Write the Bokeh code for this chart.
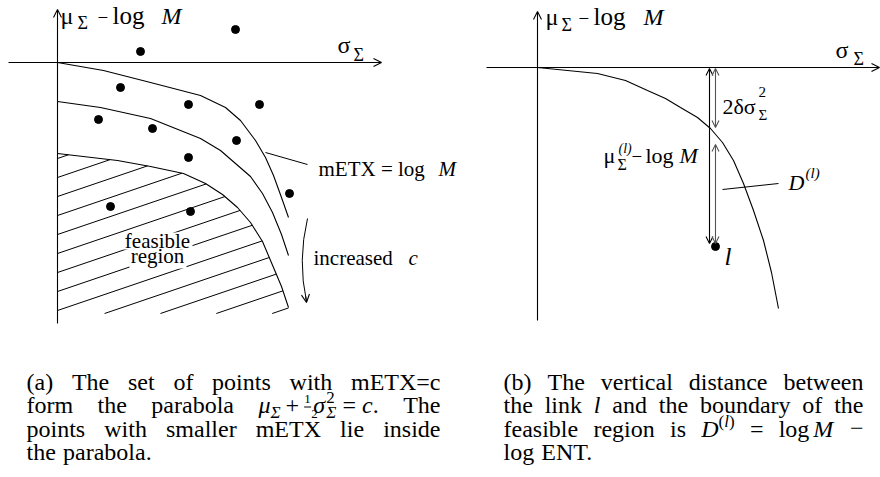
import numpy as np
from bokeh.plotting import figure
from bokeh.models import Range1d, Label, Arrow, OpenHead
from bokeh.embed import file_html
from bokeh.resources import INLINE

SERIF = "Liberation Serif"
W, H = 880, 477

# Page-style coordinates: x grows to the right, y grows downward (pixels).

# ---- panel (a): links in the (sigma, mu - log M) plane
links_a_x = [140, 235, 120, 188, 259, 98, 152, 236, 188, 110, 190, 289]
links_a_y = [51, 29, 87, 104, 104, 119, 128, 140, 157, 206, 211, 193]

# level curves mETX = c, outermost (mETX = log M) first
level1_x = [57, 103, 150, 200, 225, 240, 255, 265, 273, 281, 288]
level1_y = [62, 70, 82, 95, 107, 120, 140, 157, 175, 197, 217]
level2_x = [57, 100, 150, 200, 220, 235, 250, 262, 272, 281, 288]
level2_y = [101, 107, 118, 138, 150, 163, 176, 193, 212, 234, 255]
feasible_x = [57, 117, 150, 183, 205, 222, 237, 250, 262, 273, 281, 288]
feasible_y = [153, 160, 166, 173, 183, 194, 207, 222, 241, 267, 286, 307]

# ---- panel (b): boundary of the feasible region and link l
boundary_b_x = [537, 597, 625, 647, 665, 680, 697, 710, 722, 733, 743, 753, 763, 771, 778]
boundary_b_y = [67, 73, 80, 90, 98, 107, 117, 128, 142, 160, 183, 210, 240, 272, 308]
link_l_x = [715]
link_l_y = [246]

p = figure(width=W, height=H, x_range=Range1d(0, W), y_range=Range1d(H, 0),
           output_backend="svg", toolbar_location=None, min_border=0,
           x_axis_location=None, y_axis_location=None)
p.grid.visible = False
p.outline_line_color = None
p.background_fill_color = "white"
p.border_fill_color = "white"

LW = 1.1


def arrow(x0, y0, x1, y1, both=False, color="black", size=8):
    kw = dict(end=OpenHead(size=size, line_width=LW, line_color=color),
              x_start=x0, y_start=y0, x_end=x1, y_end=y1,
              line_width=LW, line_color=color)
    if both:
        kw["start"] = OpenHead(size=size, line_width=LW, line_color=color)
    p.add_layout(Arrow(**kw))


def put(x, y, s, size=21, style="normal", align="left"):
    # y is the wanted baseline; lift the anchor so the glyphs sit on it
    lab = Label(x=x, y=y - 0.36 * size, text=s, text_font=SERIF,
                text_font_size=f"{size}px", text_font_style=style,
                text_align=align, text_baseline="alphabetic", text_color="black")
    p.add_layout(lab)


# ================= panel (a) =================
# hatching of the feasible region, clipped by the axis, the floor and the boundary
def hatch_segments(bx, by, x0=57, floor=313, slope=0.34, step=19, first=158):
    xs = np.linspace(bx[0], bx[-1], 1500)
    ys = np.interp(xs, bx, by)
    x0s, y0s, x1s, y1s = [], [], [], []
    b = first
    while True:
        if b <= floor:
            xl, yl = x0, b
        else:
            xl, yl = x0 + (b - floor) / slope, floor
        if xl >= bx[-1] - 2:
            break
        ly = b - slope * (xs - x0)
        out = np.where((xs > xl) & (ly < ys))[0]
        xr = xs[out[0]] if len(out) else bx[-1]
        if xr > xl + 1:
            x0s.append(xl); y0s.append(yl)
            x1s.append(xr); y1s.append(b - slope * (xr - x0))
        b += step
    return x0s, y0s, x1s, y1s


hx0, hy0, hx1, hy1 = hatch_segments(feasible_x, feasible_y)
p.segment(hx0, hy0, hx1, hy1, line_color="black", line_width=1)

# white knock-out behind the "feasible region" label
p.quad(left=[123, 129], right=[192, 186], top=[232, 249], bottom=[249, 268],
       fill_color="white", line_color=None)

# axes
arrow(8, 62, 381, 62)
arrow(57, 323, 57, 9)

p.line(level1_x, level1_y, line_color="black", line_width=LW)
p.line(level2_x, level2_y, line_color="black", line_width=LW)
p.line(feasible_x, feasible_y, line_color="black", line_width=LW)

p.scatter(links_a_x, links_a_y, size=8, color="black")

# leader to the mETX = log M curve
p.segment([265], [152], [307], [164], line_color="black", line_width=1)
# curved arrow for increasing c
p.quadratic(x0=[307], y0=[218], x1=[306], y1=[301], cx=[297], cy=[260],
            line_color="black", line_width=1)
arrow(305.2, 296, 306, 302, size=8)

put(60, 24, "μ", 24)
put(77, 29, "Σ", 18)
put(97, 24, "−", 19)
put(112, 24, "log", 25)
put(161, 24, "M", 24, "italic")
put(337, 53, "σ", 24)
put(353, 61, "Σ", 18)

put(157, 248, "feasible", 21, align="center")
put(157, 263, "region", 21, align="center")
put(318, 176, "mETX = log", 21)
put(438, 176, "M", 21, "italic")
put(313, 265, "increased", 21)
put(408, 265, "c", 21, "italic")

# ================= panel (b) =================
arrow(486, 67, 879, 67)
arrow(537, 320, 537, 11)

p.line(boundary_b_x, boundary_b_y, line_color="black", line_width=LW)

arrow(709, 68, 709, 243, both=True, size=7)
arrow(715, 68, 715, 127, both=True, color="#555555", size=7)
arrow(715, 144, 715, 243, both=True, color="#555555", size=7)
p.segment([722], [189], [778], [183], line_color="black", line_width=1)

p.scatter(link_l_x, link_l_y, size=8, color="black")

put(545, 25, "μ", 24)
put(561, 31, "Σ", 18)
put(578, 25, "−", 19)
put(593, 25, "log", 25)
put(643, 25, "M", 24, "italic")
put(835, 58, "σ", 24)
put(853, 65, "Σ", 18)

put(722, 114, "2δσ", 22)
put(758, 97, "2", 15)
put(758, 120, "Σ", 15)

put(603, 163, "μ", 22)
put(618, 153, "(l)", 14, "italic")
put(617, 170, "Σ", 16)
put(631, 163, "−", 19)
put(645, 163, "log", 22)
put(679, 163, "M", 22, "italic")

put(788, 190, "D", 22, "italic")
put(805, 178, "(l)", 15, "italic")
put(724, 265, "l", 25, "italic")

# ================= captions (justified) =================
CAP, SUB = 24, 17
EM = {" ": .25, "(": .333, ")": .333, ".": .25, "=": .564, "+": .564, "−": .564,
      "a": .444, "b": .5, "c": .444, "d": .5, "e": .444, "f": .333, "g": .5,
      "h": .5, "i": .278, "k": .5, "l": .278, "m": .778, "n": .5, "o": .5,
      "p": .5, "r": .333, "s": .389, "t": .278, "u": .5, "v": .5, "w": .722,
      "x": .5, "y": .5, "E": .611, "T": .611, "X": .722, "N": .722, "M": .889,
      "D": .722, "μ": .5, "σ": .55, "Σ": .6, "1": .5, "2": .5}


def R(text, size=CAP, style="normal", dy=0, adv=None, bar=False):
    if adv is None:
        adv = sum(EM.get(c, .5) for c in text) * size
    return dict(text=text, size=size, style=style, dy=dy, adv=adv, bar=bar)


def SP(px):
    return R("", adv=px)


def W_(*words):
    return [[R(w)] for w in words]


def place(lines, left, right, base0, lead):
    for k, (words, justify) in enumerate(lines):
        base = base0 + k * lead
        widths = [sum(r["adv"] for r in w) for w in words]
        if justify and len(words) > 1:
            gap = (right - left - sum(widths)) / (len(words) - 1)
        else:
            gap = 0.3 * CAP
        x = left
        for w in words:
            for r in w:
                if r["bar"]:
                    p.segment([x], [base + r["dy"]], [x + r["adv"]], [base + r["dy"]],
                              line_color="black", line_width=1)
                elif r["text"]:
                    put(x, base + r["dy"], r["text"], r["size"], r["style"])
                x += r["adv"]
            x += gap


math_a = [R("μ", style="italic"), R("Σ", SUB, "italic", 5), SP(5), R("+"), SP(5),
          R("1", 13, dy=-10, adv=0), R("", 13, dy=-7, adv=7, bar=True),
          R("2", 13, dy=5, adv=0), SP(2),
          R("σ", style="italic"), R("2", SUB, dy=-10, adv=0),
          R("Σ", SUB, "italic", 5), SP(6), R("="), SP(6), R("c", style="italic"), R(".")]

caption_a = [
    (W_("(a)", "The", "set", "of", "points", "with", "mETX=c"), True),
    (W_("form", "the", "parabola") + [math_a] + W_("The"), True),
    (W_("points", "with", "smaller", "mETX", "lie", "inside"), True),
    (W_("the", "parabola."), False),
]

caption_b = [
    (W_("(b)", "The", "vertical", "distance", "between"), True),
    (W_("the", "link") + [[R("l", style="italic")]] + W_("and", "the", "boundary", "of", "the"), True),
    (W_("feasible", "region", "is")
     + [[R("D", style="italic"), R("(", SUB, dy=-10), R("l", SUB, "italic", -10), R(")", SUB, dy=-10)]]
     + [[R("=")], [R("log"), SP(4), R("M", style="italic")], [R("−")]], True),
    (W_("log", "ENT."), False),
]

place(caption_a, 26, 440, 390, 23.5)
place(caption_b, 503, 863, 390, 23.5)

open("out.html", "w").write(file_html(p, INLINE))
